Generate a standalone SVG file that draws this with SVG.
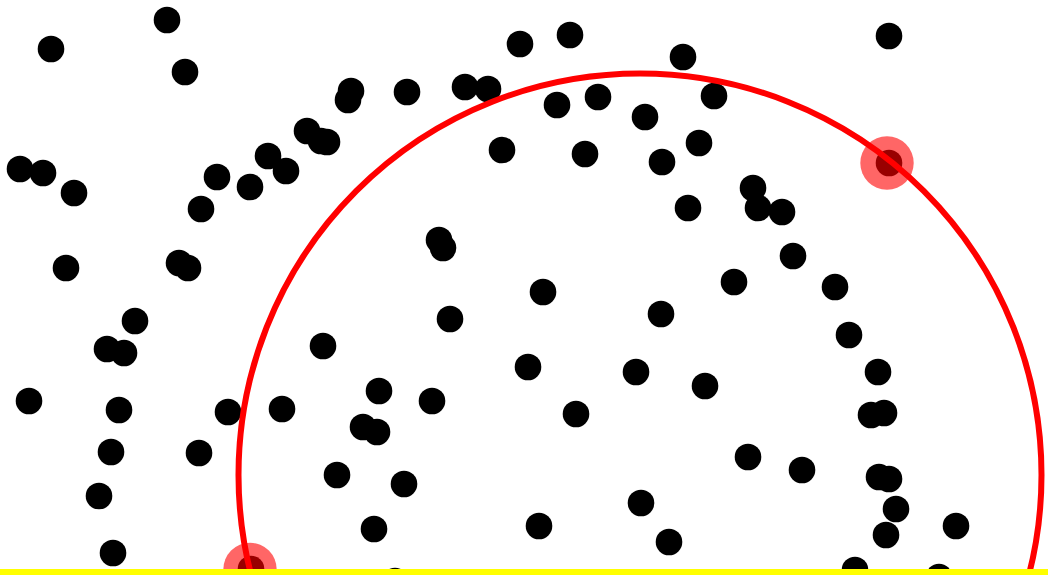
<svg xmlns="http://www.w3.org/2000/svg" width="1048" height="575" viewBox="0 0 1048 575">
<style>
.d{fill:#000}
.h{fill:#ff0000;fill-opacity:0.6}
.c{fill:none;stroke:#ff0000;stroke-width:6}
.y{stroke:#ffff00;stroke-width:6}
</style>
<rect width="1048" height="575" fill="#fff"/>
<g id="points">
<circle class="d" cx="51" cy="49" r="13.3"/><circle class="d" cx="167" cy="20" r="13.3"/><circle class="d" cx="185" cy="72" r="13.3"/><circle class="d" cx="351" cy="91" r="13.3"/><circle class="d" cx="348" cy="100" r="13.3"/><circle class="d" cx="20" cy="169" r="13.3"/><circle class="d" cx="43" cy="173" r="13.3"/><circle class="d" cx="74" cy="193" r="13.3"/><circle class="d" cx="217" cy="177" r="13.3"/><circle class="d" cx="201" cy="209" r="13.3"/><circle class="d" cx="250" cy="187" r="13.3"/><circle class="d" cx="268" cy="156" r="13.3"/><circle class="d" cx="286" cy="171" r="13.3"/><circle class="d" cx="307" cy="131" r="13.3"/><circle class="d" cx="321" cy="141" r="13.3"/><circle class="d" cx="327" cy="142" r="13.3"/><circle class="d" cx="66" cy="268" r="13.3"/><circle class="d" cx="179" cy="263" r="13.3"/><circle class="d" cx="188" cy="268" r="13.3"/>
<circle class="d" cx="407" cy="92" r="13.3"/><circle class="d" cx="465" cy="87" r="13.3"/><circle class="d" cx="488" cy="89" r="13.3"/><circle class="d" cx="520" cy="44" r="13.3"/><circle class="d" cx="570" cy="35" r="13.3"/><circle class="d" cx="683" cy="57" r="13.3"/><circle class="d" cx="557" cy="105" r="13.3"/><circle class="d" cx="598" cy="97" r="13.3"/><circle class="d" cx="645" cy="117" r="13.3"/><circle class="d" cx="699" cy="143" r="13.3"/><circle class="d" cx="662" cy="162" r="13.3"/><circle class="d" cx="502" cy="150" r="13.3"/><circle class="d" cx="585" cy="154" r="13.3"/><circle class="d" cx="688" cy="208" r="13.3"/><circle class="d" cx="439" cy="240" r="13.3"/><circle class="d" cx="443" cy="248" r="13.3"/>
<circle class="d" cx="889" cy="36" r="13.3"/><circle class="d" cx="714" cy="96" r="13.3"/><circle class="d" cx="889" cy="163" r="13.3"/><circle class="d" cx="753" cy="188" r="13.3"/><circle class="d" cx="758" cy="208" r="13.3"/><circle class="d" cx="782" cy="212" r="13.3"/><circle class="d" cx="793" cy="256" r="13.3"/><circle class="d" cx="734" cy="282" r="13.3"/><circle class="d" cx="835" cy="287" r="13.3"/>
<circle class="d" cx="135" cy="321" r="13.3"/><circle class="d" cx="107" cy="349" r="13.3"/><circle class="d" cx="124" cy="353" r="13.3"/><circle class="d" cx="29" cy="401" r="13.3"/><circle class="d" cx="119" cy="410" r="13.3"/><circle class="d" cx="228" cy="412" r="13.3"/><circle class="d" cx="282" cy="409" r="13.3"/><circle class="d" cx="323" cy="346" r="13.3"/><circle class="d" cx="111" cy="452" r="13.3"/><circle class="d" cx="199" cy="453" r="13.3"/><circle class="d" cx="99" cy="496" r="13.3"/><circle class="d" cx="337" cy="475" r="13.3"/><circle class="d" cx="113" cy="553" r="13.3"/><circle class="d" cx="251" cy="569" r="13.3"/>
<circle class="d" cx="543" cy="292" r="13.3"/><circle class="d" cx="450" cy="319" r="13.3"/><circle class="d" cx="661" cy="314" r="13.3"/><circle class="d" cx="528" cy="367" r="13.3"/><circle class="d" cx="636" cy="372" r="13.3"/><circle class="d" cx="379" cy="391" r="13.3"/><circle class="d" cx="432" cy="401" r="13.3"/><circle class="d" cx="363" cy="427" r="13.3"/><circle class="d" cx="377" cy="432" r="13.3"/><circle class="d" cx="576" cy="414" r="13.3"/><circle class="d" cx="705" cy="386" r="13.3"/><circle class="d" cx="404" cy="484" r="13.3"/><circle class="d" cx="374" cy="529" r="13.3"/><circle class="d" cx="539" cy="526" r="13.3"/><circle class="d" cx="641" cy="503" r="13.3"/><circle class="d" cx="669" cy="542" r="13.3"/><circle class="d" cx="395" cy="581" r="13.3"/>
<circle class="d" cx="849" cy="335" r="13.3"/><circle class="d" cx="878" cy="372" r="13.3"/><circle class="d" cx="871" cy="415" r="13.3"/><circle class="d" cx="884" cy="413" r="13.3"/><circle class="d" cx="748" cy="457" r="13.3"/><circle class="d" cx="802" cy="470" r="13.3"/><circle class="d" cx="879" cy="477" r="13.3"/><circle class="d" cx="889" cy="479" r="13.3"/><circle class="d" cx="896" cy="509" r="13.3"/><circle class="d" cx="886" cy="535" r="13.3"/><circle class="d" cx="956" cy="526" r="13.3"/><circle class="d" cx="855" cy="570" r="13.3"/><circle class="d" cx="939" cy="577" r="13.3"/>
</g>
<g id="highlights">
<circle class="h" cx="887" cy="163" r="26.7"/>
<circle class="h" cx="250" cy="569.5" r="26.7"/>
</g>
<circle id="circle" class="c" cx="640" cy="475" r="401.5"/>
<line id="baseline" class="y" x1="0" y1="572" x2="1048" y2="572"/>
</svg>
